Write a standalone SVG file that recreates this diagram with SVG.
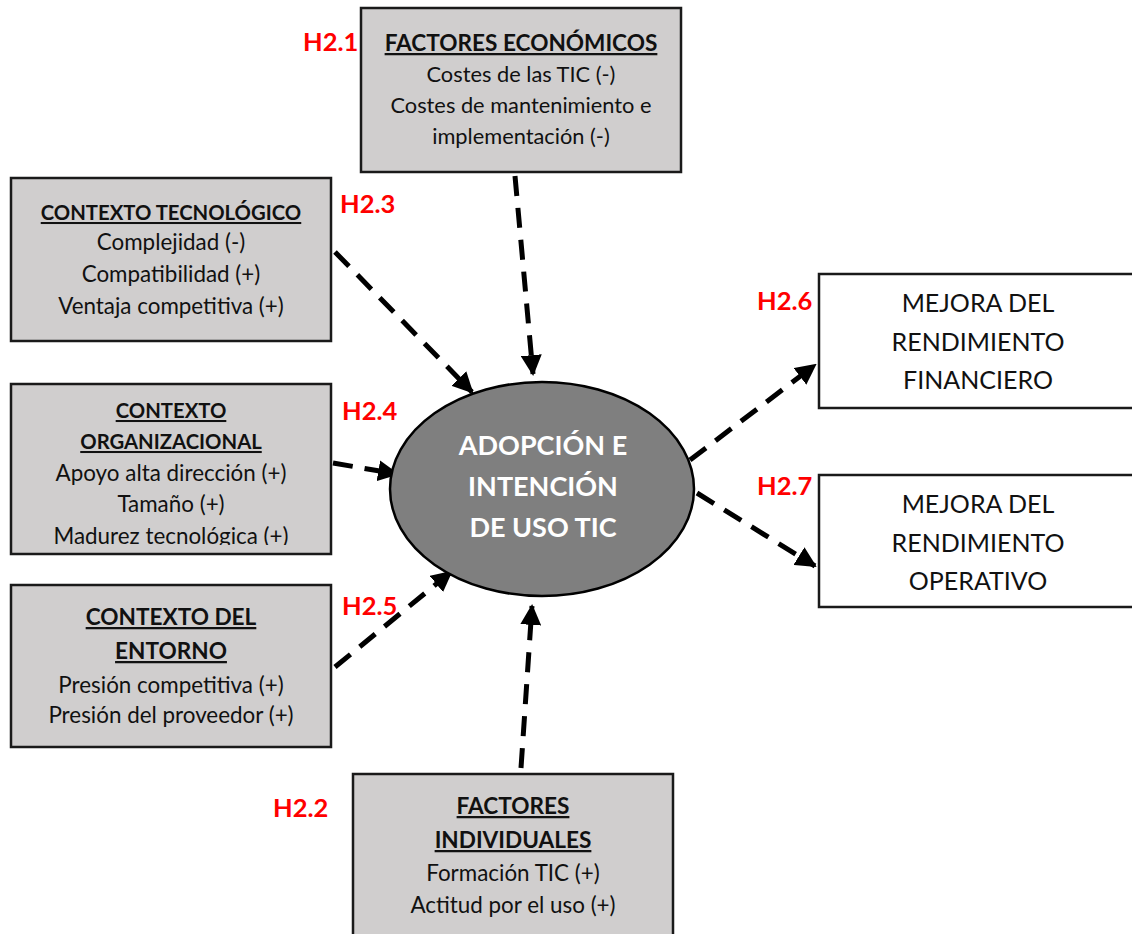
<svg xmlns="http://www.w3.org/2000/svg" width="1132" height="934" viewBox="0 0 1132 934">
  <style>
    .box { fill: #d0cece; stroke: #1a1a1a; stroke-width: 2.5; }
    .wbox { fill: #ffffff; stroke: #1a1a1a; stroke-width: 2.5; }
    text { font-family: Lato, "Open Sans", sans-serif; text-anchor: middle; fill: #111; }
    .t { font-size: 20.3px; font-weight: bold; text-decoration: underline; }
    .te { font-size: 22.6px; font-weight: bold; text-decoration: underline; }
    .tl { font-size: 22.6px; font-weight: bold; text-decoration: underline; }
    .b { font-size: 22.4px; }
    .be { font-size: 21.8px; }
    .m { font-size: 25px; }
    .h { font-size: 25.5px; font-weight: bold; fill: #ff0000; text-anchor: start; }
    .c { font-size: 27px; font-weight: bold; fill: #ffffff; }
    .dash { stroke: #000; stroke-width: 5; stroke-dasharray: 20 12; fill: none; marker-end: url(#ah); }
  </style>
  <defs>
    <marker id="ah" viewBox="0 0 10 10" refX="9" refY="5" markerWidth="4.2" markerHeight="4.2" orient="auto" markerUnits="strokeWidth">
      <path d="M0,0 L10,5 L0,10 z" fill="#000"/>
    </marker>
    <clipPath id="orgClip">
      <rect x="10" y="383" width="322" height="162"/>
    </clipPath>
  </defs>

  <g id="connectors">
    <line class="dash" x1="515" y1="176" x2="533" y2="374"/>
    <line class="dash" x1="335" y1="252" x2="472" y2="392"/>
    <line class="dash" x1="333" y1="463" x2="397" y2="474"/>
    <line class="dash" x1="335" y1="667" x2="451" y2="572"/>
    <line class="dash" x1="521" y1="768" x2="532" y2="606"/>
    <line class="dash" x1="690" y1="460" x2="815" y2="365"/>
    <line class="dash" x1="697" y1="493" x2="815" y2="566"/>
  </g>

  <g id="factores-economicos">
    <rect class="box" x="361" y="8" width="320" height="164"/>
    <text class="te" x="521" y="51">FACTORES ECONÓMICOS</text>
    <text class="be" x="521" y="82">Costes de las TIC (-)</text>
    <text class="be" x="521" y="113">Costes de mantenimiento e</text>
    <text class="be" x="521" y="144">implementación (-)</text>
  </g>

  <g id="contexto-tecnologico">
    <rect class="box" x="11" y="178" width="320" height="163"/>
    <text class="t" x="171" y="220">CONTEXTO TECNOLÓGICO</text>
    <text class="b" x="171" y="250">Complejidad (-)</text>
    <text class="b" x="171" y="282">Compatibilidad (+)</text>
    <text class="b" x="171" y="314">Ventaja competitiva (+)</text>
  </g>

  <g id="contexto-organizacional">
    <rect class="box" x="11" y="384" width="320" height="170"/>
    <g clip-path="url(#orgClip)">
      <text class="t" x="171" y="418">CONTEXTO</text>
      <text class="t" x="171" y="449">ORGANIZACIONAL</text>
      <text class="b" x="171" y="481">Apoyo alta dirección (+)</text>
      <text class="b" x="171" y="512">Tamaño (+)</text>
      <text class="b" x="171" y="544">Madurez tecnológica (+)</text>
    </g>
  </g>

  <g id="contexto-entorno">
    <rect class="box" x="11" y="585" width="320" height="162"/>
    <text class="tl" x="171" y="625">CONTEXTO DEL</text>
    <text class="tl" x="171" y="659">ENTORNO</text>
    <text class="b" x="171" y="693">Presión competitiva (+)</text>
    <text class="b" x="171" y="723">Presión del proveedor (+)</text>
  </g>

  <g id="factores-individuales">
    <rect class="box" x="353" y="774" width="320" height="170"/>
    <text class="tl" x="513" y="814">FACTORES</text>
    <text class="tl" x="513" y="848">INDIVIDUALES</text>
    <text class="b" x="513" y="881">Formación TIC (+)</text>
    <text class="b" x="513" y="913">Actitud por el uso (+)</text>
  </g>

  <g id="adopcion">
    <ellipse cx="542" cy="489" rx="152" ry="107" fill="#7f7f7f" stroke="#000" stroke-width="2.5"/>
    <text class="c" x="543" y="455">ADOPCIÓN E</text>
    <text class="c" x="543" y="496">INTENCIÓN</text>
    <text class="c" x="543" y="537">DE USO TIC</text>
  </g>

  <g id="rendimiento-financiero">
    <rect class="wbox" x="819" y="274" width="320" height="134"/>
    <text class="m" x="978" y="312">MEJORA DEL</text>
    <text class="m" x="978" y="351">RENDIMIENTO</text>
    <text class="m" x="978" y="389">FINANCIERO</text>
  </g>

  <g id="rendimiento-operativo">
    <rect class="wbox" x="819" y="475" width="320" height="132"/>
    <text class="m" x="978" y="513">MEJORA DEL</text>
    <text class="m" x="978" y="552">RENDIMIENTO</text>
    <text class="m" x="978" y="590">OPERATIVO</text>
  </g>

  <g id="hypotheses">
    <text class="h" x="303" y="51">H2.1</text>
    <text class="h" x="340" y="213">H2.3</text>
    <text class="h" x="342" y="420">H2.4</text>
    <text class="h" x="342" y="615">H2.5</text>
    <text class="h" x="273" y="817">H2.2</text>
    <text class="h" x="757" y="310">H2.6</text>
    <text class="h" x="757" y="495">H2.7</text>
  </g>
</svg>
